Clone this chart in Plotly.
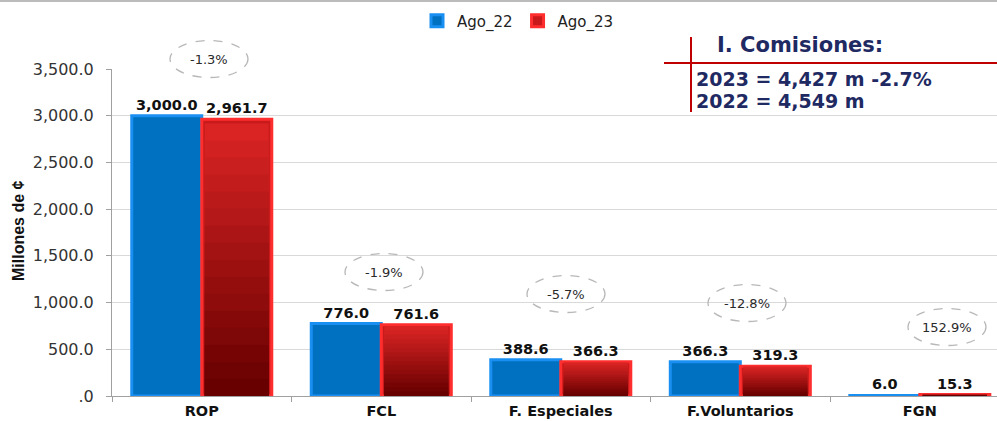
import plotly.graph_objects as go

categories = ["ROP", "FCL", "F. Especiales", "F.Voluntarios", "FGN"]
ago_22 = [3000.0, 776.0, 388.6, 366.3, 6.0]
ago_23 = [2961.7, 761.6, 366.3, 319.3, 15.3]
pct_labels = ["-1.3%", "-1.9%", "-5.7%", "-12.8%", "152.9%"]
ytick_vals = [0, 500, 1000, 1500, 2000, 2500, 3000, 3500]
ytick_text = [".0", "500.0", "1,000.0", "1,500.0", "2,000.0", "2,500.0", "3,000.0", "3,500.0"]
summary_title = "I. Comisiones:"
summary_lines = ["2023 = 4,427 m -2.7%", "2022 = 4,549 m"]

W, H = 997, 421
L, R, T, B = 112, 0, 69, 25
PW, PH = W - L - R, H - T - B


def px(xp):
    return (xp - L) / PW


def py(yp):
    return (H - B - yp) / PH


BW = 0.39      # bar width (category units)
INSET = 0.017  # border inset for gradient layers

fig = go.Figure()
fig.add_trace(go.Bar(
    name="Ago_22", x=categories, y=ago_22, width=BW, offset=-BW,
    marker=dict(color="#0070C0", line=dict(color="#1A8FF2", width=3)),
    text=[f"{v:,.1f}" for v in ago_22], textposition="outside",
    textfont=dict(family="DejaVu Sans", size=14.5, color="#111111"),
    texttemplate="<b>%{text}</b>", cliponaxis=False,
))
fig.add_trace(go.Bar(
    name="Ago_23", x=categories, y=ago_23, width=BW, offset=0,
    marker=dict(color="#C81A1A", line=dict(color="#FF2E2E", width=3)),
    text=[f"{v:,.1f}" for v in ago_23], textposition="outside",
    textfont=dict(family="DejaVu Sans", size=14.5, color="#111111"),
    texttemplate="<b>%{text}</b>", cliponaxis=False,
))

# vertical gradient inside the red bars (bright top -> dark bottom)
top_rgb = (218, 36, 36)
bot_rgb = (104, 0, 0)
N = 16
for k in range(N):
    f = 0.985 * (1 - k / N)
    t = 1 - k / (N - 1)
    col = tuple(int(bot_rgb[i] + (top_rgb[i] - bot_rgb[i]) * t) for i in range(3))
    fig.add_trace(go.Bar(
        x=categories, y=[v * f for v in ago_23], width=BW - 2 * INSET, offset=INSET,
        marker=dict(color=f"rgb{col}", line=dict(width=0)),
        showlegend=False, hoverinfo="skip",
    ))

# ellipse positions (pixel centres)
ell_centres = [(209, 59), (384, 272), (566, 294), (747, 303), (947, 327)]
ew, eh = 78, 37
shapes = []
annotations = []
for (cx, cy), lab in zip(ell_centres, pct_labels):
    shapes.append(dict(type="circle", xref="paper", yref="paper",
                       x0=px(cx - ew / 2), x1=px(cx + ew / 2),
                       y0=py(cy + eh / 2), y1=py(cy - eh / 2),
                       line=dict(color="#B8B8B8", width=1.3, dash="dash")))
    annotations.append(dict(xref="paper", yref="paper", x=px(cx), y=py(cy),
                            xanchor="center", yanchor="middle",
                            text=lab, showarrow=False,
                            font=dict(family="DejaVu Sans", size=13, color="#2A2A2A")))

# summary box lines
shapes.append(dict(type="line", xref="paper", yref="paper",
                   x0=px(691), x1=px(691), y0=py(37), y1=py(112),
                   line=dict(color="#C00000", width=2)))
shapes.append(dict(type="line", xref="paper", yref="paper",
                   x0=px(664), x1=px(997), y0=py(63), y1=py(63),
                   line=dict(color="#C00000", width=2)))
shapes.append(dict(type="line", xref="paper", yref="paper",
                   x0=px(0), x1=px(997), y0=py(1), y1=py(1),
                   line=dict(color="#BBBBBB", width=2)))

annotations.append(dict(xref="paper", yref="paper", x=px(715), y=py(45),
                        xanchor="left", yanchor="middle",
                        text=f"<b>{summary_title}</b>", showarrow=False,
                        font=dict(family="DejaVu Sans", size=21, color="#1F2A63")))
for i, line in enumerate(summary_lines):
    annotations.append(dict(xref="paper", yref="paper", x=px(694), y=py(79 + 22 * i),
                            xanchor="left", yanchor="middle",
                            text=f"<b>{line}</b>", showarrow=False,
                            font=dict(family="DejaVu Sans", size=19, color="#1F2A63")))

# y-axis title
annotations.append(dict(xref="paper", yref="paper", x=px(18), y=py(231),
                        xanchor="center", yanchor="middle", textangle=-90,
                        text="<b>Millones de ¢</b>", showarrow=False,
                        font=dict(family="Liberation Sans", size=16, color="#111111")))

fig.update_layout(
    width=W, height=H,
    margin=dict(l=L, r=R, t=T, b=B, autoexpand=False),
    paper_bgcolor="white", plot_bgcolor="white",
    barmode="overlay",
    showlegend=True,
    legend=dict(orientation="h", xref="container", yref="container",
                x=518 / W, y=1 - 21 / H, xanchor="center", yanchor="middle",
                font=dict(family="DejaVu Sans", size=15, color="#222222"),
                itemwidth=30, tracegroupgap=0),
    shapes=shapes, annotations=annotations,
    xaxis=dict(range=[-0.5, 4.43], showgrid=False, showline=True, linecolor="#A0A0A0",
               automargin=False, ticklabelstandoff=2,
               ticks="outside", tickson="boundaries", ticklen=5, tickcolor="#A0A0A0",
               tickfont=dict(family="DejaVu Sans", size=14.5, color="#111111"),
               tickvals=categories, ticktext=[f"<b>{c}</b>" for c in categories]),
    yaxis=dict(range=[0, 3500], tickvals=ytick_vals, ticktext=ytick_text,
               automargin=False, ticklabelstandoff=9,
               showgrid=True, gridcolor="#D9D9D9", showline=True, linecolor="#A0A0A0",
               ticks="outside", ticklen=5, tickcolor="#A0A0A0", zeroline=False,
               tickfont=dict(family="DejaVu Sans", size=16, color="#333333")),
)

fig.write_html("out.html", config={"displayModeBar": False},
               post_script="document.body.style.margin='0';")
